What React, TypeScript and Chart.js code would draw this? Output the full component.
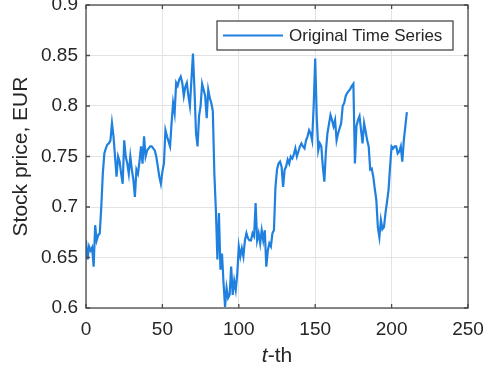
import React, { useEffect, useRef } from "react";
import { Chart, registerables } from "chart.js";

Chart.register(...registerables);

const seriesLabel = "Original Time Series";
const yTitle = "Stock price, EUR";
const xTickValues = [0, 50, 100, 150, 200, 250];
const yTickValues = [0.6, 0.65, 0.7, 0.75, 0.8, 0.85, 0.9];

const priceValues = [
  0.667, 0.648, 0.661, 0.657, 0.66, 0.641, 0.682, 0.667, 0.672, 0.674,
  0.7, 0.733, 0.753, 0.758, 0.762, 0.763, 0.766, 0.783, 0.77, 0.75,
  0.73, 0.75, 0.745, 0.733, 0.723, 0.766, 0.75, 0.743, 0.733, 0.75,
  0.737, 0.727, 0.71, 0.737, 0.733, 0.745, 0.76, 0.743, 0.77, 0.75,
  0.756, 0.758, 0.76, 0.76, 0.758, 0.756, 0.75, 0.74, 0.73, 0.723,
  0.735, 0.743, 0.776, 0.77, 0.765, 0.76, 0.783, 0.803, 0.793, 0.823,
  0.82, 0.826, 0.829, 0.823, 0.81, 0.819, 0.823, 0.81, 0.8, 0.826,
  0.852, 0.816, 0.773, 0.76, 0.79, 0.8, 0.822, 0.816, 0.81, 0.788,
  0.816, 0.808, 0.803, 0.795, 0.733, 0.697, 0.648, 0.694, 0.638, 0.654,
  0.625, 0.601, 0.62, 0.61, 0.613, 0.641, 0.613, 0.627, 0.618, 0.634,
  0.661, 0.651, 0.659, 0.651, 0.667, 0.674, 0.669, 0.667, 0.667, 0.674,
  0.671, 0.704, 0.667, 0.674, 0.664, 0.677, 0.667, 0.677, 0.641, 0.657,
  0.664, 0.661, 0.674, 0.677, 0.72, 0.737, 0.743, 0.745, 0.74, 0.72,
  0.737, 0.74, 0.747, 0.743, 0.75, 0.748, 0.752, 0.758, 0.75, 0.755,
  0.76, 0.763, 0.76, 0.758, 0.766, 0.77, 0.776, 0.773, 0.766, 0.8,
  0.847, 0.79, 0.756, 0.763, 0.76, 0.74, 0.725, 0.755, 0.773, 0.782,
  0.791, 0.786, 0.78, 0.786, 0.766, 0.773, 0.778, 0.783, 0.8, 0.803,
  0.81, 0.813, 0.815, 0.817, 0.82, 0.822, 0.743, 0.78, 0.786, 0.79,
  0.776, 0.763, 0.783, 0.775, 0.766, 0.76, 0.737, 0.738, 0.73, 0.718,
  0.707, 0.68, 0.67, 0.687, 0.678, 0.68, 0.694, 0.705, 0.717, 0.74,
  0.76, 0.758, 0.76, 0.76, 0.753, 0.755, 0.76, 0.745, 0.766, 0.78,
  0.794,
];
const tValues = priceValues.map((_, i) => i);

const LINE_COLOR = "#1f80e0";
const AXIS_COLOR = "#4a4a4a";
const TEXT_COLOR = "#262626";
const FONT = "'Liberation Sans', Arial, Helvetica, sans-serif";

const boxPlugin = {
  id: "matlabBox",
  afterDraw(chart: any) {
    const { ctx, chartArea } = chart;
    const { left, right, top, bottom } = chartArea;
    const xs = chart.scales.x;
    const ys = chart.scales.y;
    ctx.save();
    // axis box
    ctx.strokeStyle = AXIS_COLOR;
    ctx.lineWidth = 1.3;
    ctx.strokeRect(left, top, right - left, bottom - top);
    // inward ticks
    const tl = 4;
    ctx.beginPath();
    xTickValues.forEach((v) => {
      const px = xs.getPixelForValue(v);
      ctx.moveTo(px, bottom);
      ctx.lineTo(px, bottom - tl);
      ctx.moveTo(px, top);
      ctx.lineTo(px, top + tl);
    });
    yTickValues.forEach((v) => {
      const py = ys.getPixelForValue(v);
      ctx.moveTo(left, py);
      ctx.lineTo(left + tl, py);
      ctx.moveTo(right, py);
      ctx.lineTo(right - tl, py);
    });
    ctx.stroke();

    // legend
    const lx0 = 217, lx1 = 453, ly0 = 21, ly1 = 50;
    const cy = (ly0 + ly1) / 2;
    ctx.fillStyle = "#ffffff";
    ctx.fillRect(lx0, ly0, lx1 - lx0, ly1 - ly0);
    ctx.strokeStyle = "#3a3a3a";
    ctx.lineWidth = 1.2;
    ctx.strokeRect(lx0, ly0, lx1 - lx0, ly1 - ly0);
    ctx.strokeStyle = LINE_COLOR;
    ctx.lineWidth = 2.2;
    ctx.beginPath();
    ctx.moveTo(223, cy);
    ctx.lineTo(283, cy);
    ctx.stroke();
    ctx.fillStyle = TEXT_COLOR;
    ctx.font = `17px ${FONT}`;
    ctx.textBaseline = "middle";
    ctx.textAlign = "left";
    ctx.fillText(chart.data.datasets[0].label, 289, cy + 1);

    // x-axis title: italic t + "-th"
    const xc = (left + right) / 2;
    const yc = 356;
    ctx.font = `italic 21px ${FONT}`;
    const w1 = ctx.measureText("t").width;
    ctx.font = `21px ${FONT}`;
    const w2 = ctx.measureText("-th").width;
    const start = xc - (w1 + w2) / 2;
    ctx.font = `italic 21px ${FONT}`;
    ctx.fillText("t", start, yc);
    ctx.font = `21px ${FONT}`;
    ctx.fillText("-th", start + w1, yc);
    ctx.restore();
  },
};

export default function App() {
  const canvasRef = useRef<HTMLCanvasElement | null>(null);

  useEffect(() => {
    if (!canvasRef.current) return;
    const chart = new Chart(canvasRef.current, {
      type: "line",
      data: {
        datasets: [
          {
            label: seriesLabel,
            data: tValues.map((t, i) => ({ x: t, y: priceValues[i] })),
            borderColor: LINE_COLOR,
            backgroundColor: LINE_COLOR,
            borderWidth: 2.2,
            pointRadius: 0,
            tension: 0,
            fill: false,
          },
        ],
      },
      options: {
        animation: false,
        responsive: false,
        maintainAspectRatio: false,
        layout: { padding: { top: 5, right: 16, left: 0, bottom: 0 } },
        plugins: {
          legend: { display: false },
          tooltip: { enabled: false },
          title: { display: false },
        },
        scales: {
          x: {
            type: "linear",
            min: 0,
            max: 250,
            afterBuildTicks: (scale: any) => {
              scale.ticks = xTickValues.map((v) => ({ value: v }));
            },
            afterFit: (scale: any) => {
              scale.height = 58;
              scale.paddingLeft = 0;
              scale.paddingRight = 0;
            },
            grid: { color: "#e3e3e3", lineWidth: 1, drawTicks: false },
            border: { display: false },
            ticks: {
              padding: 10,
              color: TEXT_COLOR,
              font: { size: 19, family: FONT },
              maxRotation: 0,
              autoSkip: false,
              callback: (v: any) => String(v),
            },
          },
          y: {
            type: "linear",
            min: 0.6,
            max: 0.9,
            afterBuildTicks: (scale: any) => {
              scale.ticks = yTickValues.map((v) => ({ value: v }));
            },
            afterFit: (scale: any) => {
              scale.width = 86;
              scale.paddingTop = 0;
              scale.paddingBottom = 0;
            },
            grid: { color: "#e3e3e3", lineWidth: 1, drawTicks: false },
            border: { display: false },
            title: {
              display: true,
              text: yTitle,
              color: TEXT_COLOR,
              font: { size: 21, family: FONT },
              padding: { top: 9, bottom: 0 },
            },
            ticks: {
              padding: 8,
              color: TEXT_COLOR,
              font: { size: 19, family: FONT },
              autoSkip: false,
              callback: (v: any) => String(Number(Number(v).toFixed(2))),
            },
          },
        },
      },
      plugins: [boxPlugin],
    });
    return () => chart.destroy();
  }, []);

  return (
    <div style={{ position: "fixed", left: 0, top: 0, width: 484, height: 366, background: "#ffffff" }}>
      <canvas ref={canvasRef} width={484} height={366} style={{ width: 484, height: 366 }} />
    </div>
  );
}
